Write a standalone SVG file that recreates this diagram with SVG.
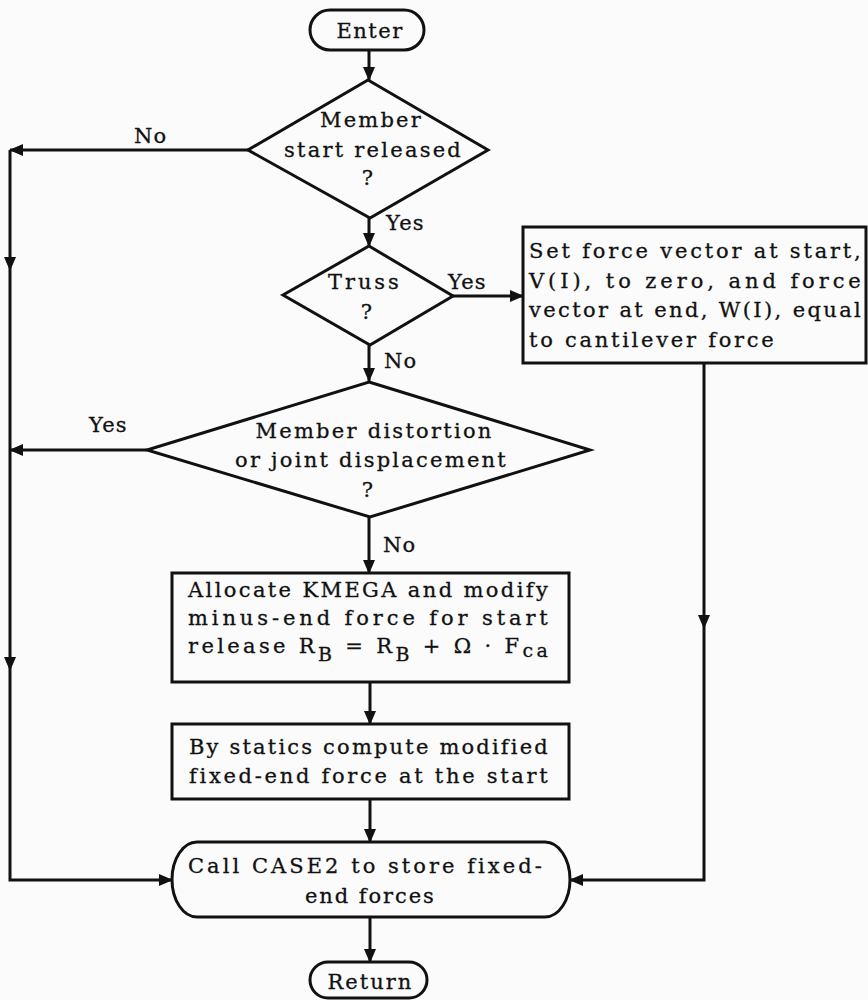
<svg xmlns="http://www.w3.org/2000/svg" width="868" height="1000" viewBox="0 0 868 1000">
  <defs>
    <marker id="arrow" markerUnits="userSpaceOnUse" markerWidth="14" markerHeight="12" refX="13" refY="6" orient="auto">
      <path d="M0,0 L14,6 L0,12 Z" fill="#111"/>
    </marker>
    <style>
      .shape { fill: none; stroke: #111; stroke-width: 3; stroke-linejoin: miter; }
      .conn { fill: none; stroke: #111; stroke-width: 3; marker-end: url(#arrow); }
      text { font-family: "DejaVu Serif", "Liberation Serif", serif; font-size: 21px; fill: #111; stroke: #111; stroke-width: 0.3px; letter-spacing: 1.2px; }
      .c { text-anchor: middle; }
      .sub { font-size: 19px; }
    </style>
  </defs>

  <rect width="868" height="1000" fill="#fbfbfb"/>

  <!-- connectors and their branch labels -->
  <g id="connectors">
    <path class="conn" d="M369,50 V80"/>
    <path class="conn" d="M248,150 H10"/>
    <path class="conn" d="M10,150 V270"/>
    <path class="conn" d="M10,270 V670"/>
    <path class="conn" d="M10,670 V880 H172"/>
    <path class="conn" d="M369,218 V246"/>
    <path class="conn" d="M453,296 H523"/>
    <path class="conn" d="M369,345 V381"/>
    <path class="conn" d="M147,450 H10"/>
    <path class="conn" d="M369,517 V573"/>
    <path class="conn" d="M370,682 V724"/>
    <path class="conn" d="M370,799 V842"/>
    <path class="conn" d="M370,917 V962"/>
    <path class="conn" d="M704,363 V628"/>
    <path class="conn" d="M704,628 V880 H570"/>
    <text x="134" y="143">No</text>
    <text x="386" y="230">Yes</text>
    <text x="448" y="289">Yes</text>
    <text x="384" y="368">No</text>
    <text x="89" y="432">Yes</text>
    <text x="383" y="552">No</text>
  </g>

  <g id="enter">
    <rect class="shape" x="310" y="10" width="114" height="40" rx="20"/>
    <text class="c" x="370" y="38" textLength="67">Enter</text>
  </g>

  <g id="start-released">
    <path class="shape" d="M368,80 L488,150 L370,218 L248,150 Z"/>
    <text class="c" x="371" y="127" textLength="102">Member</text>
    <text class="c" x="373" y="157" textLength="178">start released</text>
    <text class="c" x="368" y="185">?</text>
  </g>

  <g id="truss">
    <path class="shape" d="M369,246 L453,296 L370,345 L283,295 Z"/>
    <text class="c" x="364" y="289" textLength="72">Truss</text>
    <text class="c" x="367" y="319">?</text>
  </g>

  <g id="cantilever">
    <rect class="shape" x="523" y="227" width="343" height="136"/>
    <text x="529" y="258" textLength="333">Set force vector at start,</text>
    <text x="529" y="288" textLength="333">V(I), to  zero,  and  force</text>
    <text x="529" y="317" textLength="333">vector  at  end, W(I), equal</text>
    <text x="529" y="347" textLength="246">to cantilever force</text>
  </g>

  <g id="distortion">
    <path class="shape" d="M369,382 L590,450 L370,517 L147,450 Z"/>
    <text class="c" x="374" y="438" textLength="237">Member distortion</text>
    <text class="c" x="371" y="467" textLength="272">or joint displacement</text>
    <text class="c" x="368" y="497">?</text>
  </g>

  <g id="kmega">
    <rect class="shape" x="172" y="573" width="397" height="109"/>
    <text x="188" y="597" textLength="361">Allocate KMEGA and modify</text>
    <text x="188" y="625" textLength="361">minus-end  force  for  start</text>
    <text x="188" y="653" textLength="361">release R<tspan class="sub" dy="8">B</tspan><tspan dy="-8"> = R</tspan><tspan class="sub" dy="8">B</tspan><tspan dy="-8"> + Ω · F</tspan><tspan class="sub" dy="4">ca</tspan></text>
  </g>

  <g id="statics">
    <rect class="shape" x="172" y="724" width="397" height="75"/>
    <text x="189" y="754" textLength="360">By statics compute modified</text>
    <text x="189" y="783" textLength="360">fixed-end force at the start</text>
  </g>

  <g id="case2">
    <path class="shape" d="M197,842 H545 A25,37.5 0 0 1 545,917 H197 A25,37.5 0 0 1 197,842 Z"/>
    <text x="188" y="873" textLength="355">Call CASE2 to store fixed-</text>
    <text x="305" y="903" textLength="130">end forces</text>
  </g>

  <g id="return">
    <rect class="shape" x="310" y="962" width="117" height="36" rx="18"/>
    <text class="c" x="370" y="989" textLength="85">Return</text>
  </g>
</svg>
